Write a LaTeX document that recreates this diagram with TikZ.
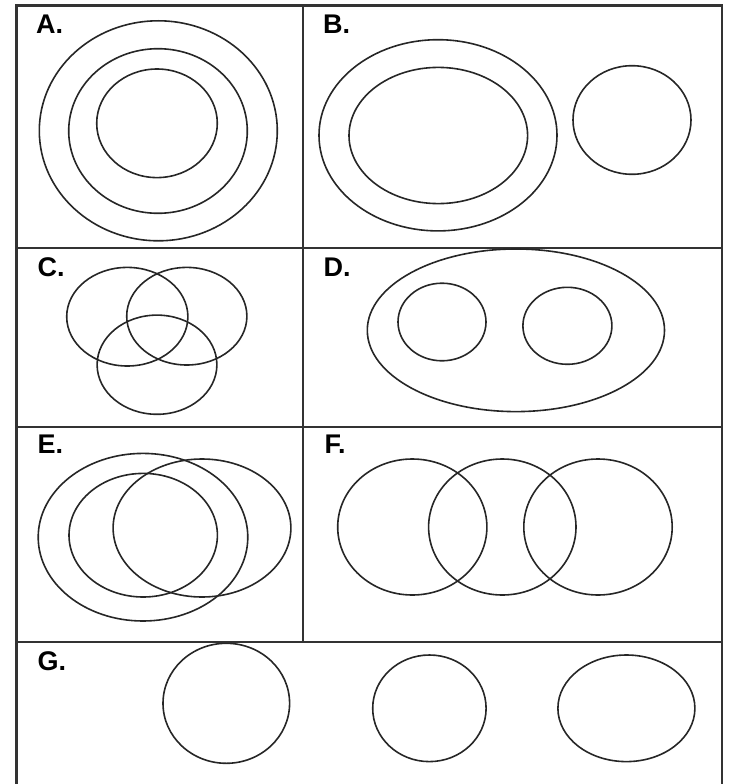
\documentclass[tikz,border=0pt]{standalone}
\usepackage{fontspec}
\setmainfont{Liberation Sans}
\begin{document}
\begin{tikzpicture}[x=1pt,y=-1pt,
  frame/.style={line width=2.2pt, draw=black!80},
  ring/.style={line width=1.6pt, draw=black!85},
  lbl/.style={anchor=base west, inner sep=0pt, font=\fontsize{27}{27}\selectfont\bfseries}]
\useasboundingbox (0,0) rectangle (728,784);
% frame
\draw[frame] (16.5,795) -- (16.5,5.5) -- (722,5.5) -- (722,795);
\draw[frame] (16.5,248) -- (722,248);
\draw[frame] (16.5,427) -- (722,427);
\draw[frame] (16.5,642) -- (722,642);
\draw[frame] (302.8,5.5) -- (302.8,642);
% labels
\node[lbl] (la) at (36,33.5) {A.};
\node[lbl] (lb) at (323,33.5) {B.};
\node[lbl] (lc) at (37.5,276.5) {C.};
\node[lbl] (ld) at (323.5,276.5) {D.};
\node[lbl] (le) at (37.5,453) {E.};
\node[lbl] (lf) at (324.5,453) {F.};
\node[lbl] (lg) at (37.5,670) {G.};
% A
\draw[ring] (158.3,130.8) ellipse [x radius=119pt, y radius=110pt];
\draw[ring] (158,131) ellipse [x radius=89.3pt, y radius=82.3pt];
\draw[ring] (157,123.3) ellipse [x radius=60.3pt, y radius=54.3pt];
% B
\draw[ring] (438,135.3) ellipse [x radius=119pt, y radius=95.6pt];
\draw[ring] (438.3,135.5) ellipse [x radius=89.3pt, y radius=68.1pt];
\draw[ring] (632,120) ellipse [x radius=59pt, y radius=54.3pt];
% C
\draw[ring] (127.3,316.7) ellipse [x radius=60.6pt, y radius=49.3pt];
\draw[ring] (186.8,316.2) ellipse [x radius=60.1pt, y radius=48.8pt];
\draw[ring] (157,364.7) ellipse [x radius=59.9pt, y radius=49.6pt];
% D
\draw[ring] (515.9,330.3) ellipse [x radius=148.6pt, y radius=81.3pt];
\draw[ring] (442,322) ellipse [x radius=44pt, y radius=38.8pt];
\draw[ring] (567.4,325.8) ellipse [x radius=44.5pt, y radius=38.5pt];
% E
\draw[ring] (143,537.2) ellipse [x radius=104.8pt, y radius=83.8pt];
\draw[ring] (143.2,535.2) ellipse [x radius=74.2pt, y radius=61.8pt];
\draw[ring] (202,528) ellipse [x radius=88.9pt, y radius=69pt];
% F
\draw[ring] (412.3,527) ellipse [x radius=74.6pt, y radius=68pt];
\draw[ring] (502.3,527) ellipse [x radius=73.7pt, y radius=68pt];
\draw[ring] (598,527) ellipse [x radius=74.2pt, y radius=68pt];
% G
\draw[ring] (226.3,703.3) ellipse [x radius=63.3pt, y radius=60pt];
\draw[ring] (429.4,708.3) ellipse [x radius=56.7pt, y radius=53.3pt];
\draw[ring] (626.4,708.3) ellipse [x radius=68.5pt, y radius=53.3pt];
\end{tikzpicture}
\end{document}
